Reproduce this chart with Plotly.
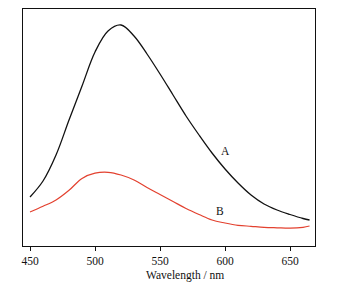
import plotly.graph_objects as go

wavelength = [450, 460, 470, 480, 490, 500, 510, 520, 530, 540, 550, 560, 570,
              580, 590, 600, 610, 620, 630, 640, 650, 660, 665]
intensity_A = [49, 65, 91, 126, 160, 194, 215, 221, 210, 192, 172, 151, 130,
               111, 93, 77, 63, 51, 42, 36, 31.5, 27.5, 26]
intensity_B = [34, 39.7, 46, 55.7, 67.6, 72.8, 73.7, 71, 66, 58.5, 51.5, 44.5, 37.5,
               31.5, 26, 23, 20.7, 19.7, 18.7, 18.2, 17.8, 18.7, 20]
x_ticks = [450, 500, 550, 600, 650]
labels = ["A", "B"]
label_pos = [(600, 95), (596, 35)]

serif = "Times New Roman, Liberation Serif, serif"

fig = go.Figure()
fig.add_trace(go.Scatter(x=wavelength, y=intensity_A, mode="lines",
                         line=dict(color="#111111", width=1.3, shape="spline", smoothing=1.0),
                         showlegend=False))
fig.add_trace(go.Scatter(x=wavelength, y=intensity_B, mode="lines",
                         line=dict(color="#e3412f", width=1.2, shape="spline", smoothing=1.0),
                         showlegend=False))

for lab, (lx, ly) in zip(labels, label_pos):
    fig.add_annotation(x=lx, y=ly, text=lab, showarrow=False,
                       font=dict(family=serif, size=11.5, color="#111111"))

# figure is placed at (8,8) in the page; width 332, height 281
fig.add_annotation(x=(185.5 - 8 - 15) / 292.5, xref="paper", y=-(275 - 246) / 237,
                   yref="paper", text="Wavelength / nm", showarrow=False,
                   yanchor="middle", xanchor="center",
                   font=dict(family=serif, size=11.5, color="#111111"))

fig.update_layout(
    width=332, height=281,
    margin=dict(l=15, r=24.5, t=1, b=43),
    paper_bgcolor="white", plot_bgcolor="white",
    font=dict(family=serif, size=11.5, color="#111111"),
    xaxis=dict(range=[444.6, 669.2], tickvals=x_ticks, ticks="outside", ticklen=4,
               tickcolor="#111111", showline=True, linecolor="#111111", linewidth=1.2,
               mirror=True, showgrid=False, zeroline=False),
    yaxis=dict(range=[0, 237], showticklabels=False, ticks="", showline=True,
               linecolor="#111111", linewidth=1.2, mirror=True, showgrid=False,
               zeroline=False),
)

fig.write_html("out.html")
